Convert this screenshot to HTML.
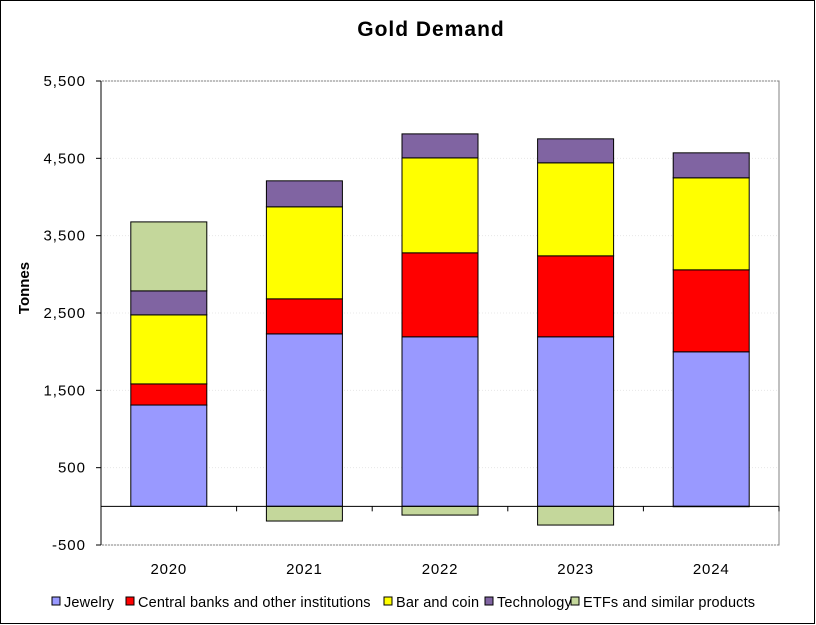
<!DOCTYPE html>
<html><head><meta charset="utf-8">
<style>
body{margin:0;background:#fff;}
svg{display:block;font-family:"Liberation Sans",Arial,sans-serif;}
</style></head>
<body>
<svg id="chart" width="816" height="625" viewBox="0 0 816 625" xmlns="http://www.w3.org/2000/svg">
<rect x="0.5" y="0.5" width="814" height="623" fill="#fff" stroke="#000"/>
<text x="431" y="36" text-anchor="middle" font-size="21" font-weight="bold" letter-spacing="1">Gold Demand</text>
<text transform="translate(29,288) rotate(-90)" text-anchor="middle" font-size="15" font-weight="bold">Tonnes</text>
<g id="grid"></g><g id="bars"></g><g id="axes"></g><g id="legend"></g>
</svg>
<script>
const categories=["2020","2021","2022","2023","2024"];
const jewelry=[1310,2230,2192,2192,1998];
const centralBanks=[273,453,1086,1047,1060];
const barCoin=[893,1190,1228,1203,1190];
const technology=[310,336,310,310,323];
const etfs=[892,-190,-113,-242,-5];
const yTicks=[-500,500,1500,2500,3500,4500,5500];
const yTickLabels=["-500","500","1,500","2,500","3,500","4,500","5,500"];
const seriesNames=["Jewelry","Central banks and other institutions","Bar and coin","Technology","ETFs and similar products"];
const colors=["#9999ff","#ff0000","#ffff00","#8064a2","#c4d79b"];
const NS="http://www.w3.org/2000/svg";
const L=101,R=779,T=81,B=545,yMin=-500,yMax=5500;
function y(v){return B-(v-yMin)/(yMax-yMin)*(B-T);}
const band=(R-L)/categories.length;
function xc(i){return L+band*(i+0.5);}
function mk(tag,attrs,parent){const e=document.createElementNS(NS,tag);for(const k in attrs)e.setAttribute(k,attrs[k]);parent.appendChild(e);return e;}
const grid=document.getElementById('grid'),bars=document.getElementById('bars'),axes=document.getElementById('axes'),legend=document.getElementById('legend');
mk('rect',{x:L,y:T,width:R-L,height:B-T,fill:'#fff',stroke:'#808080'},grid);
yTicks.forEach((t,i)=>{
  const g=mk('line',{x1:L,x2:R,y1:y(t),y2:y(t),stroke:'#e8e8e8','stroke-dasharray':'1,2'},grid);
  
  
  mk('line',{x1:L-5,x2:L,y1:y(t),y2:y(t),stroke:'#000'},axes);
  const tx=mk('text',{x:L-15,y:y(t)+5,'text-anchor':'end','font-size':15,'letter-spacing':1},axes);
  tx.textContent=yTickLabels[i];
  
  
});
const series=[jewelry,centralBanks,barCoin,technology,etfs];
const bw=76;
categories.forEach((c,i)=>{
  let pos=0,neg=0;
  series.forEach((s,k)=>{
    const v=s[i];let y0,y1;
    if(v>=0){y0=pos;y1=pos+v;pos=y1;}else{y0=neg;y1=neg+v;neg=y1;}
    const top=y(Math.max(y0,y1)),bot=y(Math.min(y0,y1));
    const r=mk('rect',{x:xc(i)-bw/2,y:top,width:bw,height:Math.max(0,bot-top),fill:colors[k],stroke:'#000','stroke-width':1},bars);
    
    
  });
  const tx=mk('text',{x:xc(i),y:574,'text-anchor':'middle','font-size':15,'letter-spacing':0.8},axes);
  tx.textContent=c;
  
  
});
mk('line',{x1:L,x2:R,y1:y(0),y2:y(0),stroke:'#000'},axes);
for(let i=0;i<=categories.length;i++){mk('line',{x1:L+band*i,x2:L+band*i,y1:y(0),y2:y(0)+5,stroke:'#000'},axes);}
mk('line',{x1:L,x2:L,y1:T,y2:B,stroke:'#000'},axes);
const lx=[52,126,384,485,571];
seriesNames.forEach((n,k)=>{
  const g=mk('g',{},legend);
  
  
  mk('rect',{x:lx[k],y:597,width:8,height:8,fill:colors[k],stroke:'#000'},g);
  const t=mk('text',{x:lx[k]+12,y:607,'font-size':14.5,'letter-spacing':0.15},g);
  t.textContent=n;
});
</script>
</body></html>
